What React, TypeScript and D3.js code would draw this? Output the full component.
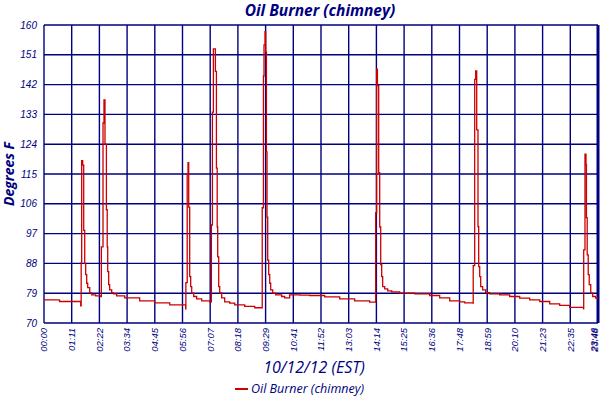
import { useMemo } from "react";
import * as d3 from "d3";

const W = 600;
const H = 400;

const chartTitle = "Oil Burner (chimney)";
const xTitle = "10/12/12 (EST)";
const yTitle = "Degrees F";

const timeLabels = [
  "00:00", "01:11", "02:22", "03:34", "04:45", "05:56", "07:07", "08:18", "09:29", "10:41",
  "11:52", "13:03", "14:14", "15:25", "16:36", "17:48", "18:59", "20:10", "21:23", "22:35", "23:46",
];
const lastLabel = "23:48";
const tempTicks = [70, 79, 88, 97, 106, 115, 124, 133, 142, 151, 160];

// minutes since midnight
const sampleMinutes = [
  0, 40, 94.5, 95.7, 97, 99.6, 102.2, 104.8, 107.3, 109.9, 112.5, 117.7, 122.8, 133, 146,
  147.7, 151.9, 154.4, 157, 160.6, 162.7, 164, 166.5, 169, 174.3, 179.4, 187, 207.7, 246.3, 285, 323.6, 364.7,
  365.2, 368.6, 370.7, 372.5, 375, 377.6, 380.2, 385.3, 393, 405.9, 426.5,
  430.9, 433.5, 436, 441.2, 443.8, 445.8, 447.1, 449.7, 452.3, 457.4, 465.1, 478, 490.9, 516.6, 542.4, 561.1,
  561.7, 564.8, 566.3, 568.9, 570.7, 572.5, 574, 575.8, 578.4, 581, 583.5, 588.7, 596.4, 611.8, 619.5, 632.4,
  658.2, 683.9, 722.5, 761.1, 799.7, 838.3, 853,
  853.8, 856.3, 858.2, 861.5, 864.1, 866.7, 869.2, 871.8, 877, 884.7, 895, 915.5, 954.1, 992.8, 1018.5,
  1044.3, 1070, 1082.9, 1104.3,
  1104.8, 1108.6, 1111.2, 1113.8, 1117.1, 1118.9, 1121.5, 1124.1, 1129.2, 1136.9, 1147.2, 1173, 1198.7,
  1224.5, 1250.2, 1276, 1301.7, 1327.4, 1353.2, 1388.7,
  1389.2, 1392.5, 1395.1, 1396.2, 1398.2, 1400.8, 1403.4, 1407.3, 1412.4, 1420.1, 1426,
];
const sampleTemps = [
  77.0, 76.5, 75.2, 88.2, 119, 117.7, 98, 88, 84.6, 82, 80.7, 79.1, 78.5, 78.2, 78,
  93, 130.4, 137.4, 124, 104.2, 93, 85.5, 81.6, 80, 79.1, 78.8, 78.2, 77.6, 76.7, 76.1, 75.5, 74.3,
  82.2, 115, 118.4, 105, 84, 81, 79, 78, 77.3, 76.7, 76.4,
  99.6, 133.7, 152.8, 146, 116.8, 99, 90, 81, 79.1, 77.6, 76.4, 76, 75.5, 75, 74.6, 74.6,
  104.8, 144.6, 154, 158, 151.8, 121.7, 102, 89, 84.6, 82, 80, 79, 78.5, 78, 77.6, 78.5,
  78.4, 78.3, 77.9, 77.3, 76.7, 76.3, 76.3,
  103.3, 146.7, 141.7, 115.4, 99, 87.6, 84, 81, 80.3, 79.7, 79.4, 79, 78.8, 78.3, 77.6,
  76.7, 76.4, 76.1, 76,
  87.3, 143.6, 146.1, 128.3, 99.1, 87, 84, 81, 80, 79.2, 78.8, 78.5, 78,
  77.5, 77, 76.5, 75.8, 75.3, 74.7, 74.3,
  92.1, 121, 117.8, 101.8, 90.6, 84.6, 81.6, 79, 78, 77.5, 77.5,
];

const NAVY = "#000080";
const RED = "#cc0000";
const italicFont = "'Liberation Sans', Arial, sans-serif";
const titleFont = "'Open Sans', 'DejaVu Sans', sans-serif";

export default function App() {
  const margin = { top: 25, right: 2, bottom: 77, left: 44 };
  const innerW = W - margin.left - margin.right;
  const innerH = H - margin.top - margin.bottom;

  const x = useMemo(() => d3.scaleLinear().domain([0, 1426]).range([0, innerW]), [innerW]);
  const y = useMemo(() => d3.scaleLinear().domain([70, 160]).range([innerH, 0]), [innerH]);

  const data = sampleMinutes.map((m, i) => [m, sampleTemps[i]] as [number, number]);
  const path =
    d3
      .line<[number, number]>()
      .x((d) => x(d[0]))
      .y((d) => y(d[1]))
      .curve(d3.curveStepAfter)(data) ?? "";

  const tickPos = timeLabels.map((_, i) => x((i * 1426) / (timeLabels.length - 1)));
  // the end labels are pulled in so they stay on the page
  const labelPos = tickPos.map((px, i) => (i === tickPos.length - 1 ? px - 4 : px));

  return (
    <svg
      width={W}
      height={H}
      style={{ position: "absolute", left: 0, top: 0, background: "#fff" }}
    >
      <text
        x={320}
        y={16}
        textAnchor="middle"
        fill={NAVY}
        fontFamily={titleFont}
        fontStyle="italic"
        fontWeight="bold"
        fontSize={15.5}
      >
        {chartTitle}
      </text>

      <g transform={`translate(${margin.left},${margin.top})`}>
        {tempTicks.map((t) => (
          <line key={t} x1={0} x2={innerW} y1={y(t)} y2={y(t)} stroke={NAVY} strokeWidth={1.4} />
        ))}
        {tickPos.map((px, i) => (
          <line key={i} x1={px} x2={px} y1={0} y2={innerH} stroke={NAVY} strokeWidth={1.4} />
        ))}
        <line x1={innerW} x2={innerW} y1={0} y2={innerH} stroke={NAVY} strokeWidth={3} />

        <path d={path} fill="none" stroke={RED} strokeWidth={1.3} />

        {tempTicks.map((t) => (
          <text
            key={t}
            x={-7}
            y={y(t)}
            dy="0.35em"
            textAnchor="end"
            fill={NAVY}
            fontFamily={italicFont}
            fontStyle="italic"
            fontSize={10}
          >
            {t}
          </text>
        ))}
        {labelPos.map((px, i) => (
          <text
            key={i}
            transform={`translate(${px},${innerH + 5}) rotate(-90)`}
            dy="0.35em"
            textAnchor="end"
            fill={NAVY}
            fontFamily={italicFont}
            fontStyle="italic"
            fontSize={9.5}
          >
            {timeLabels[i]}
          </text>
        ))}
        <text
          transform={`translate(${labelPos[labelPos.length - 1] + 1},${innerH + 5}) rotate(-90)`}
          dy="0.35em"
          textAnchor="end"
          fill={NAVY}
          fontFamily={italicFont}
          fontStyle="italic"
          fontSize={9.5}
        >
          {lastLabel}
        </text>
      </g>

      <text
        transform={`translate(14,174) rotate(-90)`}
        textAnchor="middle"
        fill={NAVY}
        fontFamily={titleFont}
        fontStyle="italic"
        fontWeight="bold"
        fontSize={14}
      >
        {yTitle}
      </text>

      <text
        x={314}
        y={373}
        textAnchor="middle"
        fill={NAVY}
        fontFamily={titleFont}
        fontStyle="italic"
        fontSize={16}
      >
        {xTitle}
      </text>

      <line x1={235} x2={248} y1={389} y2={389} stroke={RED} strokeWidth={2} />
      <text
        x={251}
        y={393}
        fill={NAVY}
        fontFamily={titleFont}
        fontStyle="italic"
        fontSize={12.5}
      >
        {chartTitle}
      </text>
    </svg>
  );
}
